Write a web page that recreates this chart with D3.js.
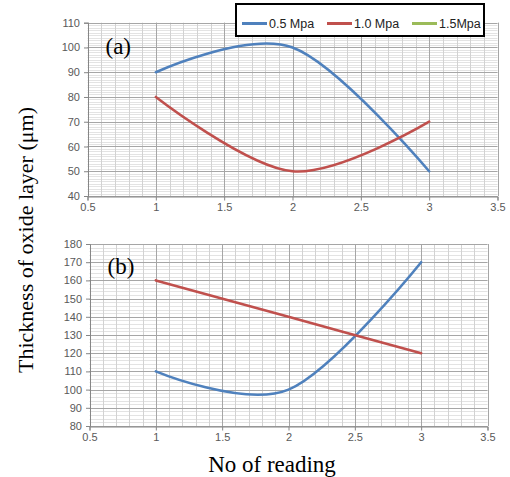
<!DOCTYPE html>
<html>
<head>
<meta charset="utf-8">
<script src="https://cdn.jsdelivr.net/npm/d3@7"></script>
<style>
  body { margin: 0; background: #fff; }
  svg { display: block; }
</style>
</head>
<body>
<div id="chart"></div>
<script>
// data
const readings = [1, 2, 3];
const seriesNames = ["0.5 Mpa", "1.0 Mpa", "1.5Mpa"];
const seriesColors = ["#4F81BD", "#C0504D", "#9BBB59"];

// panel (a)
const panelA_05 = [90, 100, 50];
const panelA_10 = [80, 50, 70];
// panel (b)
const panelB_05 = [110, 100, 170];
const panelB_10 = [160, 140, 120];

const xTicks = [0.5, 1, 1.5, 2, 2.5, 3, 3.5];
const yTicksA = [40, 50, 60, 70, 80, 90, 100, 110];
const yTicksB = [80, 90, 100, 110, 120, 130, 140, 150, 160, 170, 180];

const width = 510, height = 477;

const svg = d3.select("#chart")
  .append("svg")
  .attr("width", width)
  .attr("height", height);

const tickFont = "Liberation Sans, Arial, sans-serif";
const serif = "Liberation Serif, Times New Roman, serif";

function drawPanel(cfg) {
  const x = d3.scaleLinear().domain([0.5, 3.5]).range([cfg.left, cfg.right]);
  const y = d3.scaleLinear().domain(cfg.yDomain).range([cfg.bottom, cfg.top]);
  const g = svg.append("g");

  // minor grid
  const xMinor = d3.range(0.5, 3.5001, 0.1);
  const yMinor = d3.range(cfg.yDomain[0], cfg.yDomain[1] + 0.001, cfg.yMinorStep);

  g.selectAll(".hminor")
    .data(yMinor)
    .join("line")
    .attr("x1", cfg.left).attr("x2", cfg.right)
    .attr("y1", d => Math.round(y(d)) + 0.5).attr("y2", d => Math.round(y(d)) + 0.5)
    .attr("stroke", "#e3e3e3").attr("stroke-width", 1);

  g.selectAll(".vminor")
    .data(xMinor)
    .join("line")
    .attr("x1", d => Math.round(x(d)) + 0.5).attr("x2", d => Math.round(x(d)) + 0.5)
    .attr("y1", cfg.top).attr("y2", cfg.bottom)
    .attr("stroke", "#d2d2d2").attr("stroke-width", 1);

  // major grid
  g.selectAll(".hmajor")
    .data(cfg.yTicks)
    .join("line")
    .attr("x1", cfg.left).attr("x2", cfg.right)
    .attr("y1", d => Math.round(y(d)) + 0.5).attr("y2", d => Math.round(y(d)) + 0.5)
    .attr("stroke", "#a6a6a6").attr("stroke-width", 1);

  g.selectAll(".vmajor")
    .data(xTicks)
    .join("line")
    .attr("x1", d => Math.round(x(d)) + 0.5).attr("x2", d => Math.round(x(d)) + 0.5)
    .attr("y1", cfg.top).attr("y2", cfg.bottom)
    .attr("stroke", "#a6a6a6").attr("stroke-width", 1);

  // axes
  const yAxis = d3.axisLeft(y).tickValues(cfg.yTicks).tickSize(4).tickPadding(4);
  const xAxis = d3.axisBottom(x).tickValues(xTicks).tickSize(4).tickPadding(3)
    .tickFormat(d3.format("~g"));

  const ya = g.append("g")
    .attr("transform", `translate(${cfg.left + 0.5},0)`)
    .call(yAxis);
  const xa = g.append("g")
    .attr("transform", `translate(0,${Math.round(cfg.bottom) + 0.5})`)
    .call(xAxis);

  [ya, xa].forEach(a => {
    a.select(".domain").attr("stroke", "#868686");
    a.selectAll(".tick line").attr("stroke", "#868686");
    a.selectAll(".tick text")
      .attr("fill", "#595959")
      .style("font-family", tickFont)
      .style("font-size", "11px");
  });

  // lines
  const line = d3.line()
    .x((d, i) => x(readings[i]))
    .y(d => y(d))
    .curve(cfg.curve);

  cfg.series.forEach((s, i) => {
    g.append("path")
      .datum(s)
      .attr("fill", "none")
      .attr("stroke", seriesColors[i])
      .attr("stroke-width", 2.6)
      .attr("stroke-linecap", "round")
      .attr("d", line);
  });

  // panel label
  g.append("text")
    .attr("x", cfg.left + 18)
    .attr("y", cfg.labelY)
    .style("font-family", serif)
    .style("font-size", "23px")
    .text(cfg.label);
}

drawPanel({
  left: 87.5, right: 497.5, top: 22.7, bottom: 196,
  yDomain: [40, 110], yTicks: yTicksA, yMinorStep: 1,
  series: [panelA_05, panelA_10],
  curve: d3.curveCatmullRom.alpha(0),
  label: "(a)", labelY: 54
});

drawPanel({
  left: 89.5, right: 487.5, top: 244, bottom: 426,
  yDomain: [80, 180], yTicks: yTicksB, yMinorStep: 2,
  series: [panelB_05, panelB_10],
  curve: d3.curveCatmullRom.alpha(0),
  label: "(b)", labelY: 274
});

// legend
const legend = svg.append("g");
legend.append("rect")
  .attr("x", 236).attr("y", 4)
  .attr("width", 248).attr("height", 32)
  .attr("fill", "#fff")
  .attr("stroke", "#000").attr("stroke-width", 2);

const legendX = [242, 327, 412];
seriesNames.forEach((name, i) => {
  legend.append("line")
    .attr("x1", legendX[i]).attr("x2", legendX[i] + 25)
    .attr("y1", 23.5).attr("y2", 23.5)
    .attr("stroke", seriesColors[i]).attr("stroke-width", 3);
  legend.append("text")
    .attr("x", legendX[i] + 27)
    .attr("y", 28)
    .style("font-family", tickFont)
    .style("font-size", "12.5px")
    .attr("fill", "#222")
    .text(name);
});

// axis titles
svg.append("text")
  .attr("transform", "translate(33,240) rotate(-90)")
  .attr("text-anchor", "middle")
  .style("font-family", serif)
  .style("font-size", "22px")
  .text("Thickness of oxide layer (μm)");

svg.append("text")
  .attr("x", 272)
  .attr("y", 472)
  .attr("text-anchor", "middle")
  .style("font-family", serif)
  .style("font-size", "23px")
  .text("No of reading");
</script>
</body>
</html>
